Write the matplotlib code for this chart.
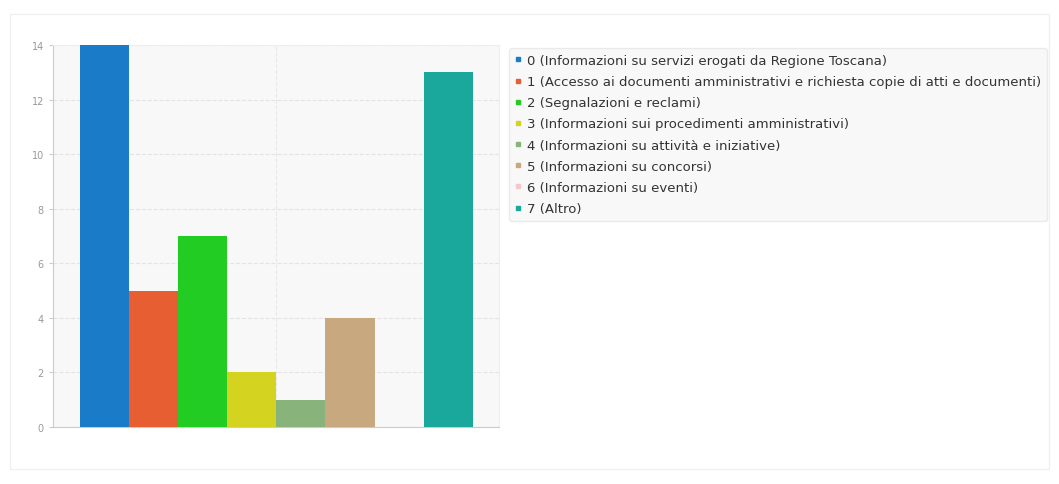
import matplotlib.pyplot as plt
from matplotlib.lines import Line2D
from matplotlib.patches import FancyBboxPatch

categories = [
    '0 (Informazioni su servizi erogati da Regione Toscana)',
    '1 (Accesso ai documenti amministrativi e richiesta copie di atti e documenti)',
    '2 (Segnalazioni e reclami)',
    '3 (Informazioni sui procedimenti amministrativi)',
    '4 (Informazioni su attività e iniziative)',
    '5 (Informazioni su concorsi)',
    '6 (Informazioni su eventi)',
    '7 (Altro)',
]
values = [14, 5, 7, 2, 1, 4, 0, 13]
colors = ['#1a7cc8', '#e65e32', '#22cc22', '#d4d420',
          '#88b47c', '#c8a87e', '#f4c8c8', '#1aa89c']
yticks = [0, 2, 4, 6, 8, 10, 12, 14]

fig = plt.figure(figsize=(10.59, 4.85), dpi=100)
fig.patch.set_facecolor('white')

# faint outer frame of the chart container
fig.patches.append(FancyBboxPatch((0.009, 0.03), 0.982, 0.94, boxstyle='square,pad=0',
                                  transform=fig.transFigure, facecolor='none',
                                  edgecolor='#f0f0f0', linewidth=1))

ax = fig.add_axes([0.050, 0.1175, 0.421, 0.7875])
ax.set_facecolor('#f8f8f8')
x = list(range(len(values)))
ax.bar(x, values, width=1.0, color=colors, zorder=3)
ax.set_xlim(-1.05, 8.03)
ax.set_ylim(0, 14)
ax.set_yticks(yticks)
ax.set_xticks([])
ax.tick_params(axis='y', length=3, colors='#cccccc', labelcolor='#999999', labelsize=7)
ax.grid(axis='y', color='#e4e4e4', linestyle='--', linewidth=0.8, zorder=0)
ax.axvline(3.5, color='#e8e8e8', linestyle='--', linewidth=0.8, zorder=0)
for side in ['top', 'right']:
    ax.spines[side].set_color('#eeeeee')
for side in ['left', 'bottom']:
    ax.spines[side].set_color('#cccccc')

handles = [Line2D([], [], marker='s', linestyle='none', markersize=3,
                  markerfacecolor=c, markeredgecolor=c) for c in colors]
leg = fig.legend(handles, categories, loc='upper left',
                 bbox_to_anchor=(509 / 1059, 1 - 49 / 485),
                 fontsize=9.5, frameon=True, handlelength=0.5, handletextpad=0.4,
                 labelspacing=0.62, borderpad=0.45, borderaxespad=0,
                 labelcolor='#333333')
leg.get_frame().set_facecolor('#f7f7f7')
leg.get_frame().set_edgecolor('#e6e6e6')

fig.savefig('out.png', dpi=100)
